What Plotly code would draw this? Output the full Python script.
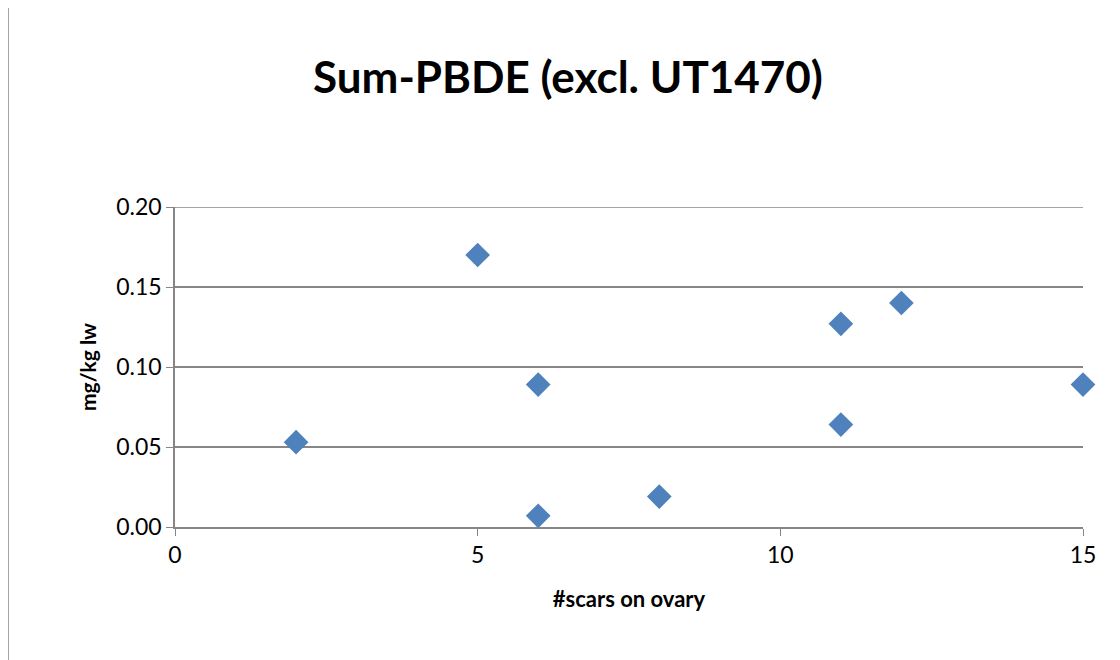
import plotly.graph_objects as go

scars = [2, 5, 6, 6, 8, 11, 11, 12, 15]
pbde = [0.053, 0.170, 0.089, 0.007, 0.019, 0.127, 0.064, 0.140, 0.089]
y_ticks = [0, 0.05, 0.10, 0.15, 0.20]

W, H = 1120, 660
L, R, T, B = 167, 45, 199, 141

fig = go.Figure(
    go.Scatter(
        x=scars, y=pbde, mode="markers", cliponaxis=False,
        marker=dict(symbol="diamond", size=19, color="#4f81bd", line=dict(width=0)),
    )
)

fig.update_layout(
    width=W, height=H,
    margin=dict(l=L, r=R, t=T, b=B),
    paper_bgcolor="white", plot_bgcolor="white",
    font=dict(family="Lato, Open Sans, sans-serif", color="black"),
    showlegend=False,
    title=dict(text="<b>Sum-PBDE (excl. UT1470)</b>", x=0.5, xanchor="center",
               y=1 - 70 / H, yanchor="middle", font=dict(size=44)),
    xaxis=dict(range=[0, 15], tickvals=[0, 5, 10, 15], showgrid=False,
               showline=True, linecolor="#868686", linewidth=1.5,
               ticks="outside", tickcolor="#868686", ticklen=7,
               tickfont=dict(size=23), zeroline=False,
               title=dict(text="<b>#scars on ovary</b>", font=dict(size=22), standoff=24)),
    yaxis=dict(range=[0, y_ticks[-1]], tickvals=y_ticks, tickformat=".2f",
               showgrid=True, gridcolor="#868686", gridwidth=1.5,
               showline=True, linecolor="#868686", linewidth=1.5,
               ticks="outside", tickcolor="#868686", ticklen=7,
               tickfont=dict(size=23), zeroline=False,
               title=dict(text="<b>mg/kg lw</b>", font=dict(size=21), standoff=14)),
    shapes=[
        dict(type="line", xref="paper", yref="y", x0=0, x1=1,
             y0=y_ticks[-1], y1=y_ticks[-1], line=dict(color="#868686", width=1.5)),
        dict(type="rect", xref="paper", yref="paper",
             x0=(0 - L) / (W - L - R), x1=(W + 5 - L) / (W - L - R),
             y0=-(B + 10) / (H - T - B),
             y1=1 + (T + 5) / (H - T - B),
             line=dict(color="#868686", width=1.5)),
    ],
)

fig.write_html("out.html")
